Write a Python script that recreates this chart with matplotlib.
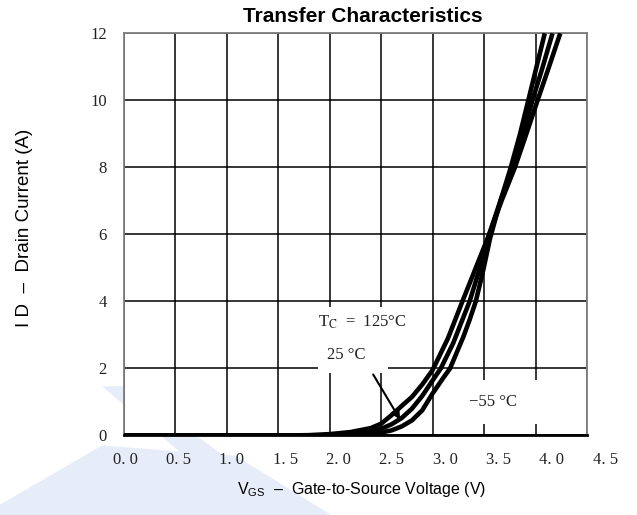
import matplotlib
matplotlib.use("Agg")
import matplotlib.pyplot as plt
from matplotlib.patches import Polygon

plt.rcParams["mathtext.fontset"] = "custom"
plt.rcParams["mathtext.rm"] = "Liberation Sans"
plt.rcParams["mathtext.it"] = "Liberation Sans"

# ---- data (VGS in V, ID in A)
VGS_125 = [0.0, 1.6, 1.8, 2.0, 2.2, 2.4, 2.5, 2.6, 2.7, 2.8, 2.9, 3.0, 3.15,
           3.29, 3.42, 3.55, 3.67, 3.8, 3.9, 4.02, 4.12, 4.24]
ID_125 = [0.0, 0.0, 0.01, 0.04, 0.1, 0.22, 0.35, 0.6, 0.88, 1.15, 1.52, 1.95,
          2.9, 4.0, 5.0, 6.0, 7.0, 8.0, 8.9, 10.0, 10.9, 12.0]

VGS_25 = [0.0, 1.8, 2.0, 2.2, 2.4, 2.5, 2.6, 2.7, 2.8, 2.9, 3.0, 3.08, 3.2,
          3.36, 3.46, 3.55, 3.67, 3.78, 3.88, 3.97, 4.07, 4.165]
ID_25 = [0.0, 0.0, 0.01, 0.04, 0.12, 0.2, 0.33, 0.52, 0.8, 1.18, 1.64, 2.0,
         2.75, 4.0, 5.0, 6.0, 7.1, 8.0, 9.0, 10.0, 11.0, 12.0]

VGS_M55 = [0.0, 2.0, 2.2, 2.4, 2.5, 2.6, 2.7, 2.8, 2.9, 3.0, 3.1, 3.17, 3.3,
           3.36, 3.42, 3.49, 3.56, 3.66, 3.76, 3.85, 3.93, 4.01, 4.09]
ID_M55 = [0.0, 0.0, 0.01, 0.04, 0.09, 0.15, 0.27, 0.45, 0.75, 1.25, 1.7, 2.0,
          2.95, 3.45, 4.0, 4.9, 5.9, 7.0, 8.0, 9.0, 10.0, 11.0, 12.0]

X_TICKS = [0.0, 0.5, 1.0, 1.5, 2.0, 2.5, 3.0, 3.5, 4.0, 4.5]
X_TICK_LABELS = ["0. 0", "0. 5", "1. 0", "1. 5", "2. 0", "2. 5", "3. 0",
                 "3. 5", "4. 0", "4. 5"]
Y_TICKS = [0, 2, 4, 6, 8, 10, 12]

SERIF = "Liberation Serif"
SANS = "Liberation Sans"
TXT = "#222222"

fig = plt.figure(figsize=(6.37, 5.15), dpi=100)
fig.patch.set_facecolor("white")

# faint watermark in the lower left, behind the plot
WM = "#e6ecf8"
fig.patches.append(Polygon([(0.160, 0.250), (0.205, 0.250), (0.475, 0.0),
                            (0.400, 0.0)], closed=True, transform=fig.transFigure,
                           facecolor=WM, edgecolor="none", zorder=-5))
fig.patches.append(Polygon([(0.0, 0.0), (0.0, 0.02), (0.16, 0.135),
                            (0.37, 0.115), (0.52, 0.0)], closed=True,
                           transform=fig.transFigure, facecolor=WM,
                           edgecolor="none", zorder=-5))

ax = fig.add_axes([0.194, 0.1544, 0.7275, 0.7809])
ax.set_facecolor("white")
ax.set_xlim(0, 4.5)
ax.set_ylim(0, 12)

ax.set_xticks(X_TICKS)
ax.set_yticks(Y_TICKS)
ax.grid(True, color="black", lw=1.1)
ax.set_axisbelow(True)
ax.tick_params(length=0, labelbottom=False)
ax.set_yticklabels([str(v) for v in Y_TICKS], family=SERIF, fontsize=12,
                   color=TXT)
ax.tick_params(axis="y", pad=12)

for s in ("top", "left", "right"):
    ax.spines[s].set_color("#7f7f7f")
    ax.spines[s].set_linewidth(1.3)
ax.spines["bottom"].set_color("black")
ax.spines["bottom"].set_linewidth(2)

# x tick labels drift slightly right of the grid in the original
for v, lab in zip(X_TICKS, X_TICK_LABELS):
    ax.annotate(lab, xy=(v * 1.036 + 0.016, 0), xycoords=("data", "axes fraction"),
                xytext=(0, -18), textcoords="offset points", ha="center",
                va="center", family=SERIF, fontsize=12, color=TXT,
                annotation_clip=False)

for xs, ys in [(VGS_125, ID_125), (VGS_25, ID_25), (VGS_M55, ID_M55)]:
    ax.plot(xs, ys, color="black", lw=3.3, solid_capstyle="butt", zorder=3)

ax.text(1.89, 3.37, r"T$_{\rm C}$  =  125°C", family=SERIF, fontsize=12,
        math_fontfamily="stix", va="center", ha="left", color=TXT,
        bbox=dict(facecolor="white", edgecolor="none", pad=5), zorder=4)
ax.text(1.98, 2.4, "25 °C   ", family=SERIF, fontsize=12, va="center",
        ha="left", color=TXT, bbox=dict(facecolor="white",
        edgecolor="none", pad=7), zorder=4)
ax.text(3.35, 1.0, "−55 °C  ", family=SERIF, fontsize=12, va="center",
        ha="left", color=TXT, bbox=dict(facecolor="white",
        edgecolor="none", pad=10), zorder=4)
ax.annotate("", xy=(2.70, 0.40), xytext=(2.41, 1.89),
            arrowprops=dict(arrowstyle="-|>", color="black", lw=1.5,
                            mutation_scale=14), zorder=5)

fig.text(0.569, 0.967, "Transfer Characteristics", ha="center", va="center",
         family=SANS, fontsize=15, fontweight="bold")
fig.text(0.567, 0.049, r"V$_{\rm GS}$  –  Gate-to-Source Voltage (V)",
         ha="center", va="center", family=SANS, fontsize=11.5)
fig.text(0.038, 0.557, "I D  –  Drain Current (A)", ha="center",
         va="center", rotation=90, family=SANS, fontsize=13.5)

fig.savefig("out.png", dpi=100, facecolor="white")
